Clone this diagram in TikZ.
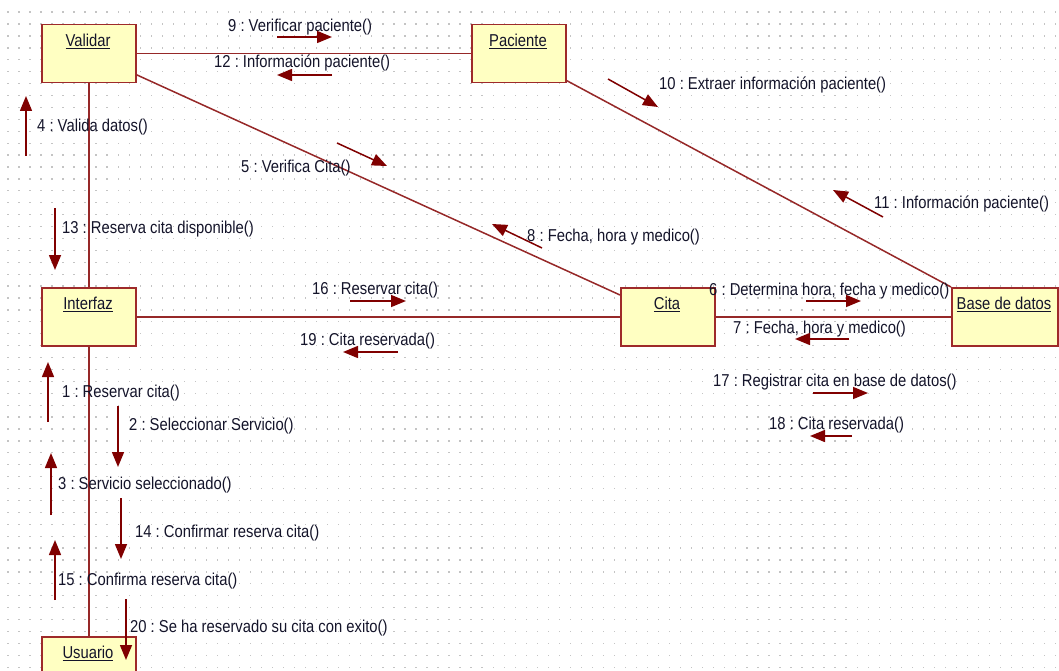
\documentclass[tikz,border=0pt]{standalone}
\usepackage{fontspec}
\setmainfont[FakeStretch=0.86]{Liberation Sans}
\frenchspacing
\usetikzlibrary{arrows.meta}
\definecolor{boxfill}{HTML}{FFFFC2}
\definecolor{boxline}{HTML}{9E2A2A}
\definecolor{linkcol}{HTML}{962828}
\definecolor{msgcol}{HTML}{800000}
\definecolor{txtcol}{HTML}{14142A}
\definecolor{gridcol}{HTML}{C4C4C4}
\tikzset{
  objbox/.style={draw=boxline, line width=1.5pt, fill=boxfill, minimum width=94pt, minimum height=58pt, anchor=north west, inner sep=0pt},
  objtitle/.style={font=\fontsize{17.2}{19}\selectfont, text=txtcol, anchor=center, inner sep=0pt},
  link/.style={draw=linkcol, line width=1.5pt},
  msg/.style={draw=msgcol, line width=1.5pt, -{Triangle[length=15pt,width=12pt]}},
  msglabel/.style={font=\fontsize{17.2}{19}\selectfont, text=txtcol, anchor=west, inner sep=0pt}
}
\begin{document}
\begin{tikzpicture}[x=1pt,y=-1pt]
\clip (0,0) rectangle (1059,671);
\fill[white] (0,0) rectangle (1059,671);
% dotted grid
\foreach \i in {0,...,95} {
  \foreach \j in {0,...,56} {
    \fill[gridcol] ({7.2+11.03*\i},{11.5+11.91*\j}) rectangle +(1.3,1.3);
  }
}
% objects
\node[objbox] (validar) at (41,24) {};
\node[objbox] (paciente) at (471,24) {};
\node[objbox] (interfaz) at (41,287) {};
\node[objbox] (cita) at (620,287) {};
\node[objbox, minimum width=106pt] (base) at (951,287) {};
\node[objbox] (usuario) at (41,636) {};
% connectors
\draw[link] (validar.east) -- (paciente.west);
\draw[link] ([yshift=-21pt]validar.east) -- ([yshift=-8pt]cita.north west);
\draw[link] ([yshift=3pt]paciente.south east) -- (base.north west);
\draw[link] (validar.south) -- (interfaz.north);
\draw[link] (interfaz.east) -- (cita.west);
\draw[link] (cita.east) -- (base.west);
\draw[link] (interfaz.south) -- (usuario.north);
% titles
\node[objtitle] (validarT) at (88,41) {\underline{Validar}};
\node[objtitle] (pacienteT) at (518,41) {\underline{Paciente}};
\node[objtitle] (interfazT) at (88,304) {\underline{Interfaz}};
\node[objtitle] (citaT) at (667,304) {\underline{Cita}};
\node[objtitle] (baseT) at (1004,304) {\underline{Base de datos}};
\node[objtitle] (usuarioT) at (88,653) {\underline{Usuario}};
% messages
\node[msglabel] (m9) at (228,27) {9 : Verificar paciente()};
\draw[msg] (277,37) -- (332,37);
\node[msglabel] (m12) at (214,63) {12 : Información paciente()};
\draw[msg] (332,75) -- (277,75);
\node[msglabel] (m10) at (659,85) {10 : Extraer información paciente()};
\draw[msg] (608,79) -- (658,107);
\node[msglabel] (m11) at (874,204) {11 : Información paciente()};
\draw[msg] (883,217) -- (833,190);
\node[msglabel] (m4) at (37,127) {4 : Valida datos()};
\draw[msg] (26,156) -- (26,96);
\node[msglabel] (m5) at (241,168) {5 : Verifica Cita()};
\draw[msg] (337,143) -- (387,166);
\node[msglabel] (m8) at (527,237) {8 : Fecha, hora y medico()};
\draw[msg] (542,248) -- (492,224);
\node[msglabel] (m13) at (62,229) {13 : Reserva cita disponible()};
\draw[msg] (55,208) -- (55,270);
\node[msglabel] (m16) at (312,290) {16 : Reservar cita()};
\draw[msg] (350,301) -- (406,301);
\node[msglabel] (m19) at (300,341) {19 : Cita reservada()};
\draw[msg] (398,352) -- (343,352);
\node[msglabel] (m6) at (709,291) {6 : Determina hora, fecha y medico()};
\draw[msg] (806,301) -- (861,301);
\node[msglabel] (m7) at (733,329) {7 : Fecha, hora y medico()};
\draw[msg] (849,339) -- (795,339);
\node[msglabel] (m17) at (713,382) {17 : Registrar cita en base de datos()};
\draw[msg] (813,393) -- (868,393);
\node[msglabel] (m18) at (769,425) {18 : Cita reservada()};
\draw[msg] (852,436) -- (810,436);
\node[msglabel] (m1) at (62,393) {1 : Reservar cita()};
\draw[msg] (48,422) -- (48,362);
\node[msglabel] (m2) at (129,426) {2 : Seleccionar Servicio()};
\draw[msg] (118,406) -- (118,467);
\node[msglabel] (m3) at (58,485) {3 : Servicio seleccionado()};
\draw[msg] (51,515) -- (51,453);
\node[msglabel] (m14) at (135,533) {14 : Confirmar reserva cita()};
\draw[msg] (121,498) -- (121,559);
\node[msglabel] (m15) at (58,581) {15 : Confirma reserva cita()};
\draw[msg] (55,600) -- (55,540);
\node[msglabel] (m20) at (130,628) {20 : Se ha reservado su cita con exito()};
\draw[msg] (126,599) -- (126,660);
\end{tikzpicture}
\end{document}
